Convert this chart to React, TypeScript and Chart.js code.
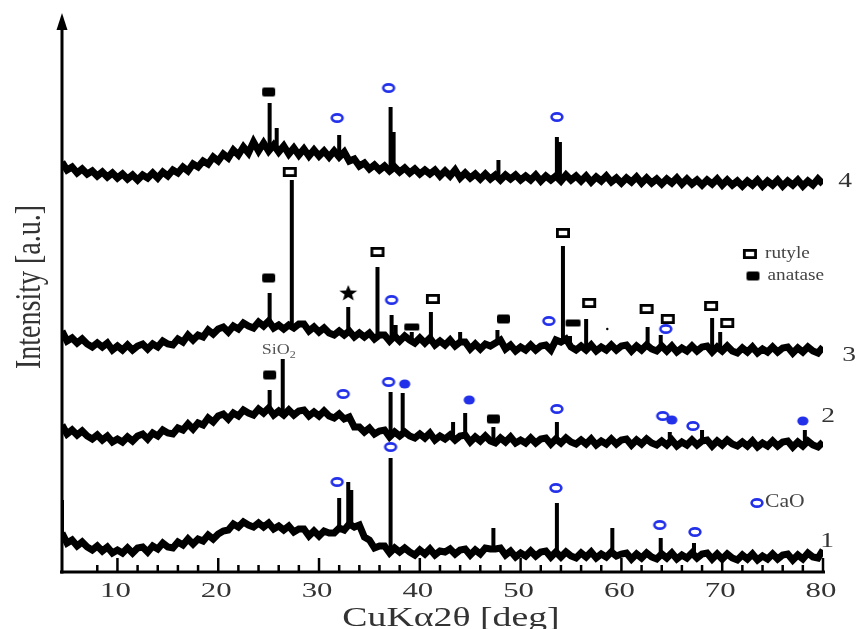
import React, { useEffect, useRef } from "react";
import { Chart, registerables } from "chart.js";
Chart.register(...registerables);

// 2θ grid (deg)
const DEG = [4.5,5,5.5,6,6.5,7,7.5,8,8.5,9,9.5,10,10.5,11,11.5,12,12.5,13,13.5,14,14.5,15,15.5,16,16.5,17,17.5,18,18.5,19,19.5,20,20.5,21,21.5,22,22.5,23,23.5,24,24.5,25,25.5,26,26.5,27,27.5,28,28.5,29,29.5,30,30.5,31,31.5,32,32.5,33,33.5,34,34.5,35,35.5,36,36.5,37,37.5,38,38.5,39,39.5,40,40.5,41,41.5,42,42.5,43,43.5,44,44.5,45,45.5,46,46.5,47,47.5,48,48.5,49,49.5,50,50.5,51,51.5,52,52.5,53,53.5,54,54.5,55,55.5,56,56.5,57,57.5,58,58.5,59,59.5,60,60.5,61,61.5,62,62.5,63,63.5,64,64.5,65,65.5,66,66.5,67,67.5,68,68.5,69,69.5,70,70.5,71,71.5,72,72.5,73,73.5,74,74.5,75,75.5,76,76.5,77,77.5,78,78.5,79,79.5,80];

// background intensities (a.u., stacked offsets included)
const TRACE4 = [410,402,405,399,403,398,401,396,400,395,399,394,398,393,397,392,397,394,399,394,400,396,402,399,405,401,408,405,411,408,415,411,418,414,422,417,425,419,430,421,429,421,427,420,426,418,424,417,423,416,422,416,421,415,421,415,420,411,413,406,409,403,407,402,406,401,405,400,404,399,403,398,402,398,402,396,401,396,402,394,399,394,398,393,398,393,397,392,397,393,397,392,396,392,397,391,396,392,396,391,397,392,396,391,396,390,395,391,396,390,394,389,394,390,395,389,394,389,393,388,393,389,394,388,393,388,392,387,392,388,393,387,392,387,391,386,391,387,392,386,391,387,392,386,391,387,392,386,391,387,393,388];
const TRACE3 = [241,231,234,229,233,228,225,229,225,229,222,226,222,227,222,226,228,223,228,225,231,228,227,233,230,237,232,237,235,242,238,243,245,240,246,243,249,246,244,250,246,251,244,247,243,247,244,248,248,241,245,240,244,239,237,241,237,241,235,239,235,239,233,237,237,231,236,231,236,232,229,234,229,234,227,231,227,232,226,230,230,223,228,223,228,226,229,232,223,227,221,225,222,227,222,226,227,222,232,230,233,225,222,226,222,227,221,225,222,227,222,226,227,221,226,222,227,223,221,226,221,226,220,224,221,226,221,225,226,220,225,221,226,221,219,224,220,225,219,223,220,225,220,224,225,219,224,220,225,221,219,225];
const TRACE2 = [147,138,142,137,141,136,133,137,132,136,130,133,130,135,131,136,138,133,139,136,142,139,138,144,142,148,143,149,147,154,150,156,158,153,159,156,162,159,157,163,159,164,157,161,157,162,157,161,162,156,160,156,161,156,154,158,153,155,145,145,140,144,138,141,142,135,140,136,140,136,134,138,134,139,132,136,133,137,132,136,137,130,135,131,136,131,129,134,130,135,129,132,129,134,129,133,134,128,133,129,134,130,128,132,128,133,127,131,128,133,128,132,133,127,132,128,133,129,127,131,127,132,126,130,127,132,127,131,132,126,131,127,132,128,126,130,126,131,125,129,126,131,126,130,131,125,130,126,131,127,125,130];
const TRACE1 = [39,29,32,26,30,25,22,26,21,25,19,22,19,24,19,24,25,20,26,23,29,25,24,30,27,33,28,33,31,37,33,38,41,42,48,45,50,47,45,49,45,49,43,46,42,46,40,43,43,36,41,36,41,39,39,44,42,48,45,47,35,32,24,26,26,19,24,20,24,20,17,22,18,23,17,21,20,23,18,22,23,17,22,18,24,23,23,24,17,21,15,19,16,21,16,20,21,15,20,15,20,16,14,19,15,20,14,18,15,20,16,18,19,13,18,14,19,15,13,18,14,19,13,17,14,19,14,18,19,13,18,13,18,14,12,17,13,18,12,16,13,18,13,17,18,12,17,13,19,15,14,22];

// diffraction peaks: [2θ, base, top]
const PEAKS4 = [[25.1,424,469],[25.8,423,444],[32.0,417,437],[37.1,403,465],[37.4,403,440],[47.8,395,412],[53.6,394,435],[53.9,394,430]];
const PEAKS3 = [[25.1,248,279],[27.3,245,392],[32.9,238,265],[35.8,236,305],[37.2,234,257],[37.6,234,247],[39.2,233,240],[41.1,231,260],[44.0,228,240],[47.7,230,242],[54.2,232,326],[54.9,226,236],[56.5,224,253],[62.6,224,245],[63.9,224,237],[69.0,223,254],[69.8,223,240]];
const PEAKS2 = [[25.1,161,182],[26.4,160,213],[37.1,138,180],[38.3,138,179],[43.3,134,150],[44.5,134,159],[47.3,133,145],[53.6,131,150],[64.8,129,140],[68.0,129,142],[78.2,128,142]];
const PEAKS1 = [[4.5,36,72],[32.0,42,74],[32.9,45,90],[33.2,46,82],[37.1,22,114],[47.3,24,44],[53.6,18,69],[59.1,17,44],[63.9,16,34],[67.2,16,29]];

// phase markers: [2θ, intensity]
const RUTILE_MARKS = [[27.1,400],[35.8,320],[41.3,273],[54.2,339],[56.8,269],[62.5,263],[64.6,253],[68.9,266],[70.5,249],[72.75,318]];
const ANATASE_MARKS = [[25.0,480],[25.0,294],[48.3,253],[25.1,197],[47.3,153],[73.05,296]];
const ANATASE_WIDE_MARKS = [[39.2,245],[55.2,249]];
const CAO_MARKS = [[31.8,454],[36.9,484],[53.6,455],[37.2,272],[52.8,251],[64.4,243],[32.4,178],[36.9,190],[53.6,163],[64.1,156],[67.1,146],[31.8,90],[37.1,125],[53.5,84],[63.8,47],[67.3,40],[73.45,69]];
const CAO_FILLED_MARKS = [[38.5,188],[44.9,172],[65.0,152],[78.0,151]];
const STAR_MARKS = [[32.9,279]];
const DOT_MARKS = [[58.6,243]];

// text labels: [text, 2θ, intensity]
const TRACE_LABELS: [string, number, number][] = [["4",82.2,391],["3",82.6,217],["2",80.5,156],["1",80.4,31]];
const LEGEND_LABELS: [string, number, number][] = [["rutyle",74.25,318],["anatase",74.5,296],["CaO",74.25,70]];
const SIO2_LABEL: [number, number] = [26.3, 222];
const X_TICK_LABELS = [10,20,30,40,50,60,70,80];

const SERIF = '"Liberation Serif", "Times New Roman", serif';

function stretchText(ctx: CanvasRenderingContext2D, text: string, x: number, y: number, size: number, sx: number, align: CanvasTextAlign, color: string, baseline: CanvasTextBaseline = "alphabetic") {
  ctx.save();
  ctx.translate(x, y);
  ctx.scale(sx, 1);
  ctx.font = `${size}px ${SERIF}`;
  ctx.fillStyle = color;
  ctx.textAlign = align;
  ctx.textBaseline = baseline;
  ctx.fillText(text, 0, 0);
  ctx.restore();
}

const decorPlugin = {
  id: "decor",
  afterDraw(chart: any) {
    const ctx: CanvasRenderingContext2D = chart.ctx;
    const { left, right, top, bottom } = chart.chartArea;
    const xs = chart.scales.x;
    const ys = chart.scales.y;
    ctx.save();
    ctx.strokeStyle = "#000";
    ctx.fillStyle = "#000";
    ctx.lineWidth = 3;
    ctx.beginPath();
    ctx.moveTo(left - 2, bottom);
    ctx.lineTo(right + 2, bottom);
    ctx.stroke();
    ctx.beginPath();
    ctx.moveTo(left, bottom + 1.5);
    ctx.lineTo(left, top + 12);
    ctx.stroke();
    ctx.beginPath();
    ctx.moveTo(left, top);
    ctx.lineTo(left - 5.5, top + 17);
    ctx.lineTo(left + 5.5, top + 17);
    ctx.closePath();
    ctx.fill();
    ctx.lineWidth = 2.5;
    for (const t of xs.ticks) {
      const v = t.value;
      if (v < 5) continue;
      const px = xs.getPixelForValue(v);
      const major = Math.abs(v % 10) < 1e-6;
      ctx.beginPath();
      ctx.moveTo(px, bottom);
      ctx.lineTo(px, bottom - (major ? 14 : 7));
      ctx.stroke();
    }
    ctx.restore();
    for (const v of X_TICK_LABELS) {
      stretchText(ctx, String(v), xs.getPixelForValue(v) - 2, bottom + 25, 22, 1.4, "center", "#333");
    }
    stretchText(ctx, "CuK\u03b12\u03b8 [deg]", left + 389, bottom + 54, 28, 1.35, "center", "#333");
    ctx.save();
    ctx.translate(30, 287);
    ctx.scale(1.3, 1);
    ctx.rotate(-Math.PI / 2);
    ctx.font = `28px ${SERIF}`;
    ctx.fillStyle = "#333";
    ctx.textAlign = "center";
    ctx.textBaseline = "middle";
    ctx.fillText("Intensity [a.u.]", 0, 0);
    ctx.restore();
    for (const [t, x, y] of TRACE_LABELS) {
      stretchText(ctx, t, xs.getPixelForValue(x), ys.getPixelForValue(y), 22, 1.25, "center", "#333", "middle");
    }
    for (const [t, x, y] of LEGEND_LABELS) {
      stretchText(ctx, t, xs.getPixelForValue(x), ys.getPixelForValue(y), t === "CaO" ? 18 : 16, 1.2, "left", "#444", "middle");
    }
    const sx = xs.getPixelForValue(SIO2_LABEL[0]);
    const sy = ys.getPixelForValue(SIO2_LABEL[1]);
    stretchText(ctx, "SiO", sx - 20, sy, 15, 1.2, "left", "#555", "middle");
    stretchText(ctx, "2", sx + 8, sy + 5, 10, 1.2, "left", "#555", "middle");
  },
};

function makeMarker(w: number, h: number, fn: (g: CanvasRenderingContext2D) => void) {
  const c = document.createElement("canvas");
  c.width = w;
  c.height = h;
  const g = c.getContext("2d")!;
  fn(g);
  return c;
}

export default function App() {
  const ref = useRef<HTMLCanvasElement>(null);
  useEffect(() => {
    const canvas = ref.current;
    if (!canvas) return;
    const BLUE = "#2230ea";
    const ring = makeMarker(16, 12, (g) => {
      g.strokeStyle = BLUE; g.lineWidth = 2.6;
      g.beginPath(); g.ellipse(8, 6, 5.4, 3.6, 0, 0, Math.PI * 2); g.stroke();
    });
    const blueDot = makeMarker(14, 12, (g) => {
      g.fillStyle = BLUE;
      g.beginPath(); g.ellipse(7, 6, 5.6, 4.6, 0, 0, Math.PI * 2); g.fill();
    });
    const openSq = makeMarker(16, 12, (g) => {
      g.fillStyle = "#fff"; g.fillRect(2, 2, 12, 8);
      g.strokeStyle = "#000"; g.lineWidth = 2.8; g.strokeRect(2.4, 2.4, 11.2, 7.2);
    });
    const fillSq = makeMarker(15, 11, (g) => {
      g.fillStyle = "#000";
      g.beginPath(); (g as any).roundRect(1, 1, 13, 9, 2); g.fill();
    });
    const fillWide = makeMarker(17, 9, (g) => {
      g.fillStyle = "#000";
      g.beginPath(); (g as any).roundRect(1, 1, 15, 7, 1.5); g.fill();
    });
    const star = makeMarker(20, 18, (g) => {
      g.fillStyle = "#000";
      g.beginPath();
      for (let k = 0; k < 10; k++) {
        const r = k % 2 === 0 ? 8.5 : 3.6;
        const a = -Math.PI / 2 + (k * Math.PI) / 5;
        const px = 10 + r * Math.cos(a) * 1.1;
        const py = 9.5 + r * Math.sin(a);
        if (k === 0) g.moveTo(px, py); else g.lineTo(px, py);
      }
      g.closePath(); g.fill();
    });

    const trace = (vals: number[]) => ({
      type: "line" as const,
      data: DEG.map((x, i) => ({ x, y: vals[i] })),
      borderColor: "#000",
      borderWidth: 7,
      borderJoinStyle: "miter" as const,
      pointRadius: 0,
      tension: 0,
      fill: false,
    });
    const peaks = (list: number[][]) => ({
      type: "line" as const,
      data: list.flatMap(([p, b, t]) => [{ x: p, y: b }, { x: p, y: t }, { x: p, y: null }]),
      borderColor: "#000",
      borderWidth: 4,
      borderCapStyle: "butt" as const,
      pointRadius: 0,
      spanGaps: false,
      fill: false,
    });
    const marks = (list: number[][], style: any, radius = 5) => ({
      type: "line" as const,
      data: list.map(([x, y]) => ({ x, y })),
      showLine: false,
      pointStyle: style,
      pointRadius: radius,
      pointBackgroundColor: "#000",
      pointBorderColor: "#000",
      pointBorderWidth: 0,
      clip: false as any,
    });

    const chart = new Chart(canvas, {
      type: "line",
      data: {
        datasets: [
          trace(TRACE1), trace(TRACE2), trace(TRACE3), trace(TRACE4),
          peaks(PEAKS1), peaks(PEAKS2), peaks(PEAKS3), peaks(PEAKS4),
          marks(RUTILE_MARKS, openSq), marks(ANATASE_MARKS, fillSq), marks(ANATASE_WIDE_MARKS, fillWide),
          marks(CAO_MARKS, ring), marks(CAO_FILLED_MARKS, blueDot), marks(STAR_MARKS, star),
          marks(DOT_MARKS, "circle", 1.2),
        ] as any,
      },
      options: {
        animation: false,
        responsive: false,
        devicePixelRatio: 1,
        events: [],
        layout: { padding: { left: 62, right: 36, top: 13, bottom: 57 } },
        scales: {
          x: { type: "linear", display: false, min: 4.5, max: 80, ticks: { stepSize: 2 } },
          y: { type: "linear", display: false, min: 0, max: 559 },
        },
        plugins: { legend: { display: false }, tooltip: { enabled: false } },
      },
      plugins: [decorPlugin],
    });
    return () => chart.destroy();
  }, []);

  return (
    <div style={{ position: "absolute", left: 0, top: 0, width: 859, height: 629, background: "#fff" }}>
      <canvas ref={ref} width={859} height={629} style={{ display: "block", width: 859, height: 629 }} />
    </div>
  );
}
